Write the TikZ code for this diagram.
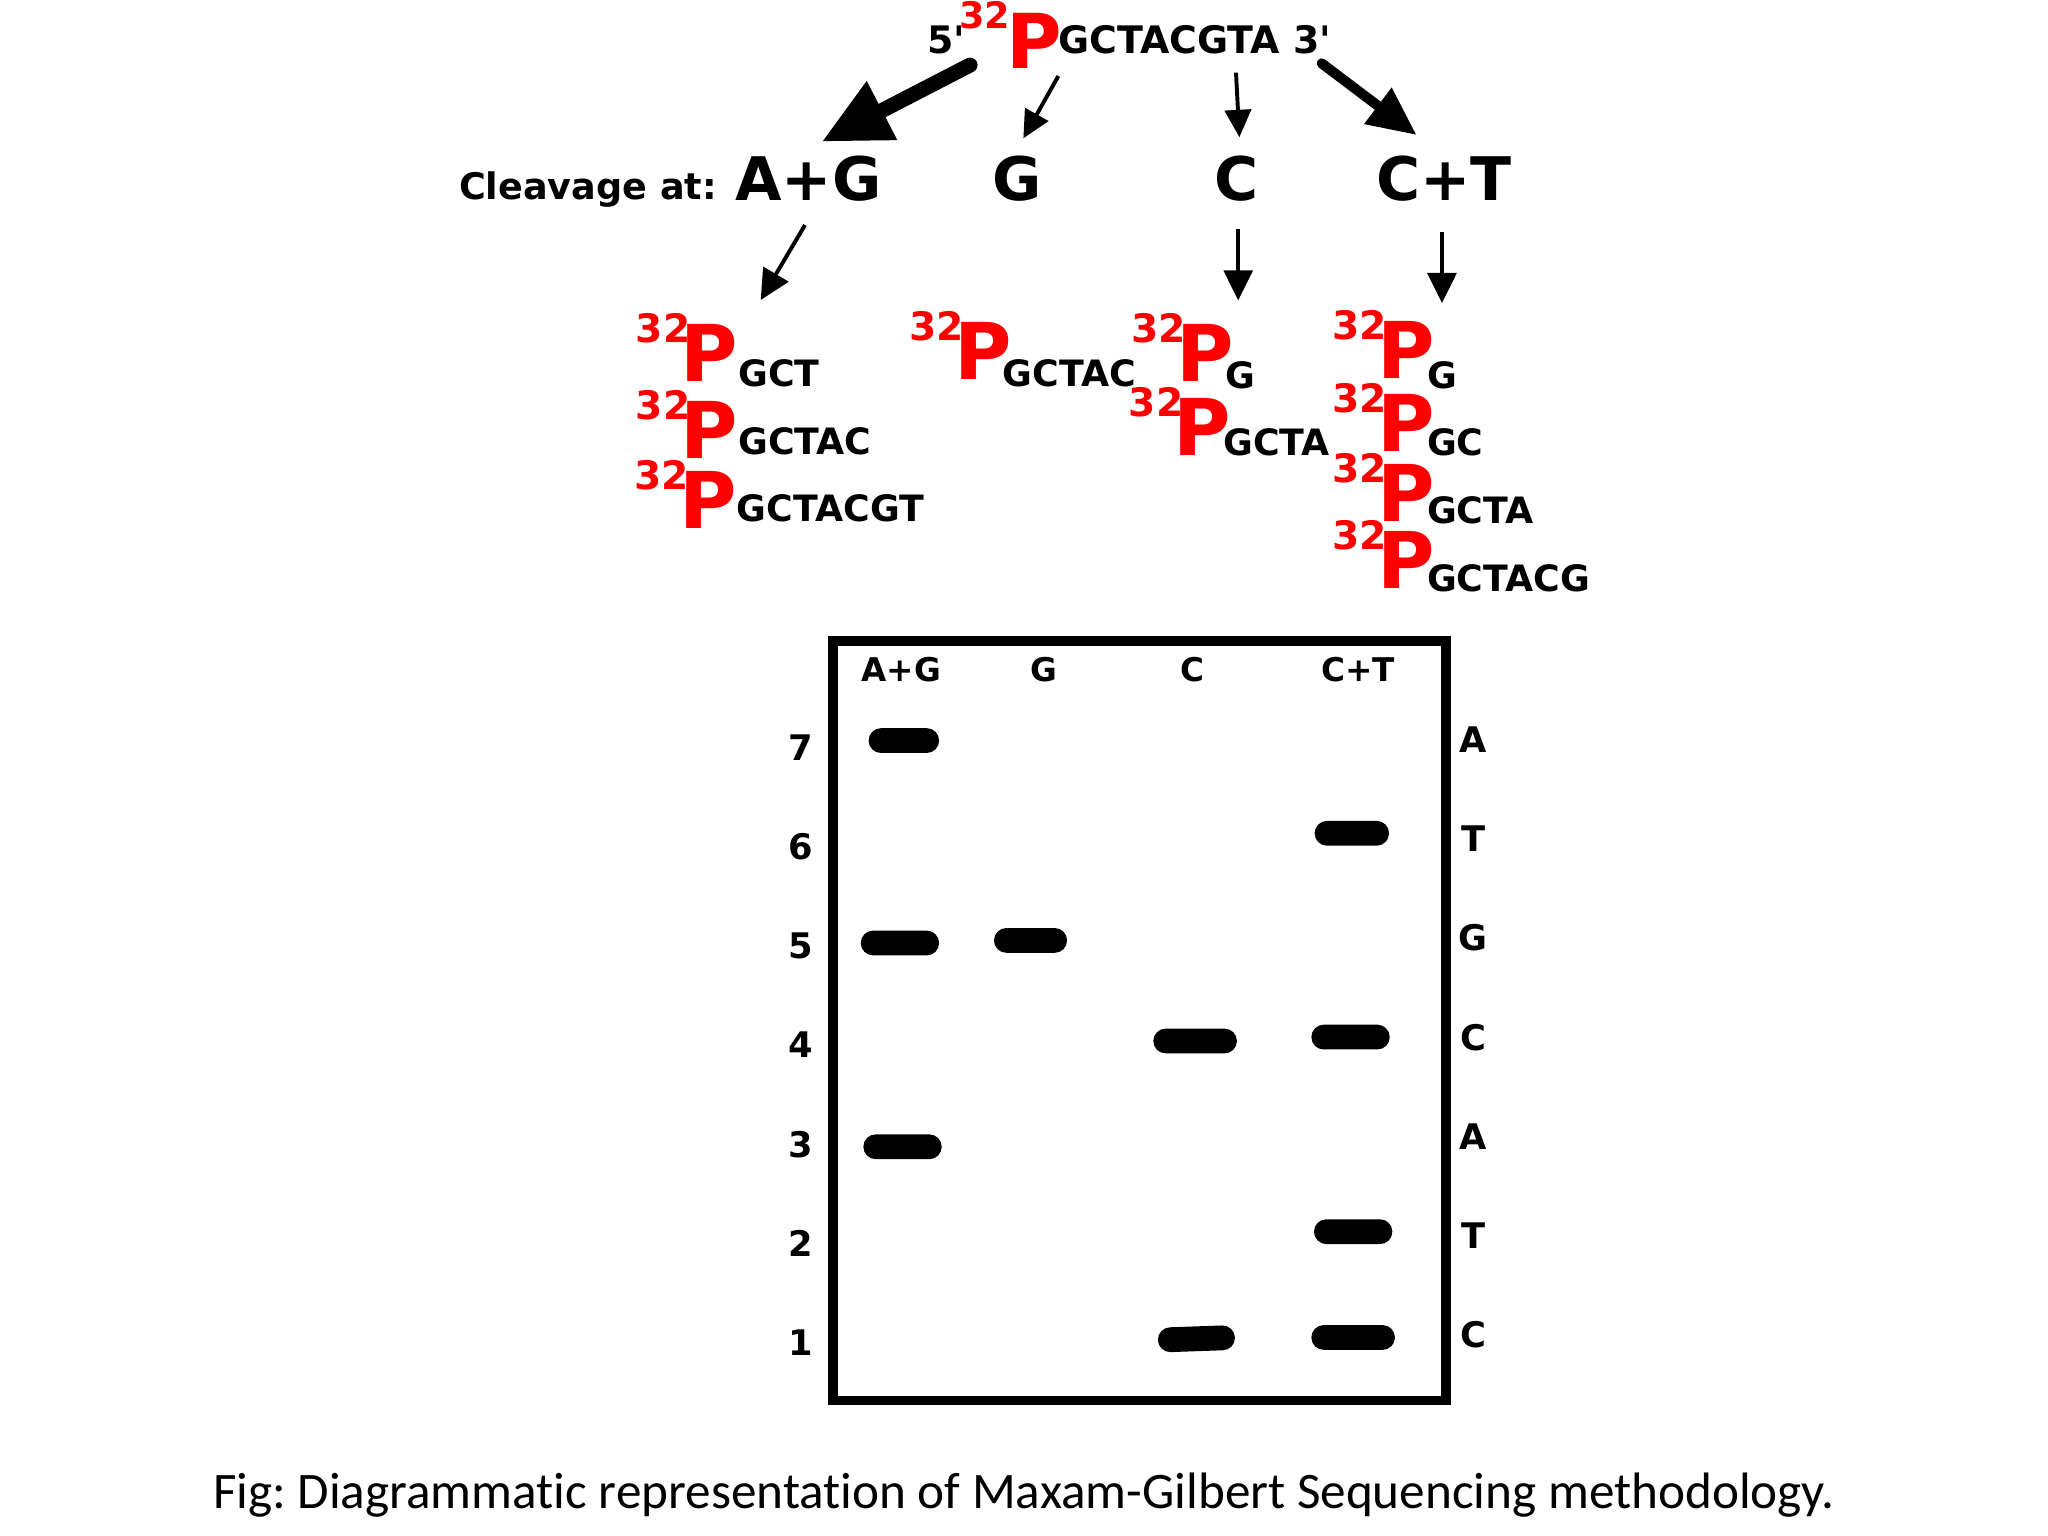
\documentclass[tikz,border=0pt]{standalone}
\usepackage{fontspec}
\setmainfont{DejaVu Sans}
\newfontfamily\capfont{Carlito}[Ligatures=NoCommon]
\usetikzlibrary{arrows.meta}
\definecolor{pred}{RGB}{255,0,0}
\newcommand\fs[1]{\fontsize{#1}{#1}\selectfont}
\newcommand\frag[3]{{\color{pred}\raisebox{15pt}{\fs{15}32}\kern-3.65pt{\fs{30}P}}\kern#3\raisebox{#1}{\fs{13.9}#2}}
\frenchspacing
\begin{document}
\begin{tikzpicture}[x=0.5pt,y=-0.5pt,
  txt/.style={inner sep=0pt, outer sep=0pt, anchor=base west, font=\bfseries},
  ctxt/.style={inner sep=0pt, outer sep=0pt, anchor=base, font=\bfseries\fs{12.5}},
  lbl/.style={inner sep=0pt, outer sep=0pt, anchor=base, font=\bfseries\fs{13.5}},
  band/.style={fill=black, rounded corners=4.75pt, minimum height=9.5pt, inner sep=0pt, outer sep=0pt},
  bigarrow/.style={line width=5.75pt, line cap=round, -{Triangle[length=26pt,width=23.75pt]}},
  medarrow/.style={line width=3.85pt, line cap=round, -{Triangle[length=18.6pt,width=16.4pt]}},
  thinarrow/.style={line width=1.5pt, -{Triangle[length=10.5pt,width=10pt]}},
  thinarrowb/.style={line width=1.5pt, -{Triangle[length=11.5pt,width=11pt]}}
]
\useasboundingbox (0,0) rectangle (1568,1176);
\fill[white] (0,0) rectangle (1568,1176);

% top sequence
\node[txt] (seq) at (710,52.3) {\raisebox{5.5pt}{\fs{14.5}5\textquotesingle}\kern-2.25pt{\color{pred}\raisebox{15.3pt}{\fs{14}32}\kern-1.3pt{\fs{29}P}}\kern-1.55pt\raisebox{5.5pt}{\fs{14.5}GCTACGTA 3\textquotesingle}};

% cleavage labels
\node[txt, font=\bfseries\fs{14}] (cleav) at (351.5,152.5) {Cleavage at:};
\node[txt, font=\bfseries\fs{23}] (cag) at (563,153.5) {A+G};
\node[txt, font=\bfseries\fs{23}] (cg) at (759.7,153.5) {G};
\node[txt, font=\bfseries\fs{23}] (cc) at (929.7,153.5) {C};
\node[txt, font=\bfseries\fs{23}] (cct) at (1053.7,153.5) {C+T};

% arrow end points
\coordinate (a1s) at (742.7,49.8);  \coordinate (a1e) at (629.1,108.5);
\coordinate (a2s) at (810.3,58.2);  \coordinate (a2e) at (783.5,105.9);
\coordinate (a3s) at (946.3,55.6);  \coordinate (a3e) at (948.9,105.1);
\coordinate (a4s) at (1011.9,48.5); \coordinate (a4e) at (1084.6,103.4);
\coordinate (b1s) at (616.3,172.3); \coordinate (b1e) at (582.4,229.7);
\coordinate (b3s) at (948,175);     \coordinate (b3e) at (948,230);
\coordinate (b4s) at (1104,178);    \coordinate (b4e) at (1104,232);

\draw[bigarrow] (a1s) -- (a1e);
\draw[thinarrow] (a2s) -- (a2e);
\draw[thinarrow] (a3s) -- (a3e);
\draw[medarrow] (a4s) -- (a4e);
\draw[thinarrowb] (b1s) -- (b1e);
\draw[thinarrowb] (b3s) -- (b3e);
\draw[thinarrowb] (b4s) -- (b4e);

% fragments
\node[txt] (f11) at (486.8,292.2) {\frag{-1.9pt}{GCT}{0pt}};
\node[txt] (f12) at (486.8,350.9) {\frag{1.6pt}{GCTAC}{0pt}};
\node[txt] (f13) at (485.8,404.5) {\frag{2.5pt}{GCTACGT}{0pt}};
\node[txt] (f21) at (696.2,290.9) {\frag{-2.5pt}{GCTAC}{-3.5pt}};
\node[txt] (f31) at (866.2,292.2) {\frag{-2.5pt}{G}{-3pt}};
\node[txt] (f32) at (864.2,348.9) {\frag{0pt}{GCTA}{-3pt}};
\node[txt] (f41) at (1020.2,289.7) {\frag{-3.8pt}{G}{-3pt}};
\node[txt] (f42) at (1020.2,345.8) {\frag{-1.5pt}{GC}{-3pt}};
\node[txt] (f43) at (1020.2,399.4) {\frag{-0.6pt}{GCTA}{-3pt}};
\node[txt] (f44) at (1020.2,450.4) {\frag{-1.2pt}{GCTACG}{-3pt}};

% gel
\node[draw, line width=3.75pt, minimum width=234.8pt, minimum height=290.8pt, inner sep=0pt] (gel) at (872.5,781.5) {};
\node[ctxt] (hag) at (690,522) {A+G};
\node[ctxt] (hg) at (799,522) {G};
\node[ctxt] (hc) at (913,522) {C};
\node[ctxt] (hct) at (1040,522) {C+T};

\foreach \n/\yy in {7/582,6/658,5/734,4/810,3/886,2/962,1/1038}
  \node[lbl] (n\n) at (613,\yy) {\n};
\node[lbl] (r7) at (1128,576) {A};
\node[lbl] (r6) at (1128,652) {T};
\node[lbl] (r5) at (1128,728) {G};
\node[lbl] (r4) at (1128,804) {C};
\node[lbl] (r3) at (1128,880) {A};
\node[lbl] (r2) at (1128,956) {T};
\node[lbl] (r1) at (1128,1032) {C};

% bands
\node[band, minimum width=27pt] (bag7) at (692,567) {};
\node[band, minimum width=30pt] (bag5) at (689,722) {};
\node[band, minimum width=30pt] (bag3) at (691,878) {};
\node[band, minimum width=28pt] (bg5) at (789,720) {};
\node[band, minimum width=32pt] (bc4) at (915,797) {};
\node[band, minimum width=29.5pt, rotate=2] (bc1) at (916,1025) {};
\node[band, minimum width=28.5pt] (bct6) at (1035,638) {};
\node[band, minimum width=30pt] (bct4) at (1034,794) {};
\node[band, minimum width=30pt] (bct2) at (1036,943) {};
\node[band, minimum width=32pt] (bct1) at (1036,1024) {};

% caption
\node[inner sep=0pt, anchor=base, font=\capfont\fs{19.6}] (cap) at (784,1154.8) {Fig: Diagrammatic representation of Maxam-Gilbert Sequencing methodology.};
\end{tikzpicture}
\end{document}
